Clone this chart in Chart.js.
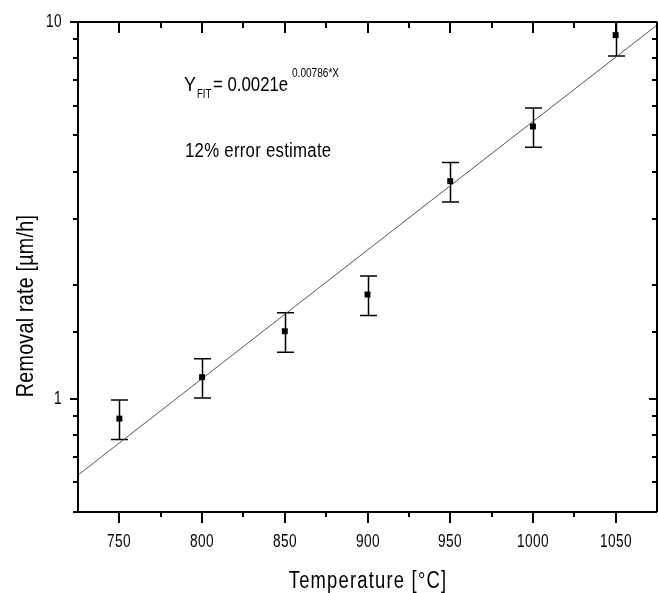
<!DOCTYPE html>
<html>
<head>
<meta charset="utf-8">
<script src="https://cdn.jsdelivr.net/npm/chart.js@4/dist/chart.umd.min.js"></script>
<style>
  html, body { margin: 0; padding: 0; background: #fff; }
  #wrap { width: 658px; height: 593px; position: relative; }
</style>
</head>
<body>
<div id="wrap"><canvas id="c" width="658" height="593"></canvas></div>
<script>
// Measured removal rates vs. temperature
const temperatures = [750, 800, 850, 900, 950, 1000, 1050];
const removalRates = [0.885, 1.14, 1.51, 1.89, 3.78, 5.28, 9.23];
const errorFraction = 0.12;          // 12% error estimate

// Exponential fit Y = A * exp(B * X)
const FIT_A = 0.0021;
const FIT_B = 0.00786;
const fitRange = [725, 1075];

// Axis ranges and labels
const xRange = [725, 1075];
const xStep = 25;
const xLabelStep = 50;
const yRange = [0.5, 10];
const xTitle = 'Temperature [°C]';
const yTitle = 'Removal rate [µm/h]';
const fitLabel = { y: 'Y', sub: 'FIT', main: '= 0.0021e', sup: '0.00786*X' };
const errorLabel = '12% error estimate';

// Plot frame geometry (pixels)
const frame = { left: 78, top: 22, right: 657, bottom: 512 };

const FONT = "'Liberation Sans', Arial, sans-serif";

const points = temperatures.map((t, i) => ({ x: t, y: removalRates[i] }));
const fitLine = fitRange.map(x => ({ x, y: FIT_A * Math.exp(FIT_B * x) }));

const isDecade = v => Math.abs(Math.log10(v) - Math.round(Math.log10(v))) < 1e-9;
const formatX = v => (v % xLabelStep === 0 ? String(v) : '');
const formatY = v => (isDecade(v) ? String(Math.round(v)) : '');

// Draws text squeezed horizontally by a factor (narrow typeface look)
function narrowText(ctx, text, x, y, size, squeeze, align, spacing) {
  ctx.save();
  ctx.font = size + 'px ' + FONT;
  ctx.letterSpacing = (spacing || 0) + 'px';
  ctx.textAlign = 'left';
  const w = ctx.measureText(text).width * squeeze;
  let x0 = x;
  if (align === 'center') x0 = x - w / 2;
  else if (align === 'right') x0 = x - w;
  ctx.translate(x0, y);
  ctx.scale(squeeze, 1);
  ctx.fillText(text, 0, 0);
  ctx.restore();
}

// Pins the plot area to the frame geometry
const pinArea = {
  id: 'pinArea',
  afterLayout(chart) {
    const f = frame;
    chart.chartArea = { left: f.left, top: f.top, right: f.right, bottom: f.bottom,
                        width: f.right - f.left, height: f.bottom - f.top };
    const { x, y } = chart.scales;
    Object.assign(x, { left: f.left, right: f.right, width: f.right - f.left,
                       top: f.bottom, bottom: chart.height, height: chart.height - f.bottom });
    Object.assign(y, { left: 0, right: f.left, width: f.left,
                       top: f.top, bottom: f.bottom, height: f.bottom - f.top });
    x.configure();
    y.configure();
  }
};

// Frame, tick marks, tick labels, error bars and text annotations
const decor = {
  id: 'decor',
  beforeDatasetsDraw(chart) {
    const { ctx, chartArea: a, scales: { x, y } } = chart;
    ctx.save();
    ctx.beginPath();
    ctx.rect(a.left, a.top, a.right - a.left, a.bottom - a.top);
    ctx.clip();
    ctx.strokeStyle = '#000';
    ctx.lineWidth = 1.5;
    points.forEach(p => {
      const px = Math.round(x.getPixelForValue(p.x)) + 0.5;
      const yHi = y.getPixelForValue(p.y * (1 + errorFraction));
      const yLo = y.getPixelForValue(p.y * (1 - errorFraction));
      ctx.beginPath();
      ctx.moveTo(px, yHi); ctx.lineTo(px, yLo);
      ctx.moveTo(px - 8.5, yHi); ctx.lineTo(px + 8.5, yHi);
      ctx.moveTo(px - 8.5, yLo); ctx.lineTo(px + 8.5, yLo);
      ctx.stroke();
    });
    ctx.restore();
  },
  afterDraw(chart) {
    const { ctx, chartArea: a, scales: { x, y } } = chart;
    ctx.save();
    ctx.strokeStyle = '#000';
    ctx.fillStyle = '#000';
    ctx.lineWidth = 2;
    // frame
    ctx.beginPath();
    ctx.moveTo(a.left, a.top - 1); ctx.lineTo(a.left, a.bottom + 1);
    ctx.moveTo(a.left - 1, a.bottom); ctx.lineTo(a.right, a.bottom);
    ctx.moveTo(a.left - 1, a.top); ctx.lineTo(a.right, a.top);
    ctx.moveTo(a.right, a.top); ctx.lineTo(a.right, a.bottom);
    ctx.stroke();

    ctx.textBaseline = 'alphabetic';
    // x ticks: bottom outward, top inward
    ctx.beginPath();
    x.ticks.forEach(t => {
      const px = Math.round(x.getPixelForValue(t.value));
      const label = formatX(t.value);
      const major = label !== '';
      if (t.value > xRange[0] && t.value < xRange[1]) {
        ctx.moveTo(px, a.bottom); ctx.lineTo(px, a.bottom + (major ? 11 : 5));
        ctx.moveTo(px, a.top); ctx.lineTo(px, a.top + (major ? 11 : 6));
      }
      if (label) narrowText(ctx, label, px, a.bottom + 35, 19, 0.72, 'center', 0.5);
    });
    // y ticks: left outward, right inward
    y.ticks.forEach(t => {
      const py = Math.round(y.getPixelForValue(t.value));
      const label = formatY(t.value);
      const major = label !== '';
      ctx.moveTo(a.left, py); ctx.lineTo(a.left - (major ? 8 : 5), py);
      if (t.value > yRange[0] && t.value < yRange[1]) {
        ctx.moveTo(a.right, py); ctx.lineTo(a.right - (major ? 8 : 5), py);
      }
      if (label) narrowText(ctx, label, a.left - 16, py + 5, 19, 0.72, 'right', 0.5);
    });
    ctx.stroke();

    // axis titles
    narrowText(ctx, xTitle, 368, 588, 23, 0.8, 'center', 1.5);
    ctx.save();
    ctx.translate(33, 306);
    ctx.rotate(-Math.PI / 2);
    narrowText(ctx, yTitle, 0, 0, 24, 0.82, 'center', 0.3);
    ctx.restore();

    // fit equation
    narrowText(ctx, fitLabel.y, 184, 91, 21, 0.85, 'left', 0);
    narrowText(ctx, fitLabel.sub, 197, 98, 12, 0.8, 'left', 0);
    narrowText(ctx, fitLabel.main, 213, 91, 20, 0.84, 'left', 0);
    narrowText(ctx, fitLabel.sup, 292, 77, 12, 0.84, 'left', 0);
    // error note
    narrowText(ctx, errorLabel, 185, 157, 20, 0.84, 'left', 0.3);
    ctx.restore();
  }
};

new Chart(document.getElementById('c'), {
  data: {
    datasets: [
      {
        type: 'line',
        data: fitLine,
        borderColor: '#555',
        borderWidth: 1,
        pointRadius: 0,
        fill: false,
        tension: 0,
        order: 2
      },
      {
        type: 'scatter',
        data: points,
        pointStyle: 'rect',
        pointRadius: 4.2,
        pointBorderWidth: 0,
        backgroundColor: '#000',
        borderColor: '#000',
        order: 1
      }
    ]
  },
  options: {
    responsive: false,
    animation: false,
    devicePixelRatio: 1,
    plugins: { legend: { display: false }, tooltip: { enabled: false } },
    scales: {
      x: {
        type: 'linear',
        min: xRange[0],
        max: xRange[1],
        grid: { display: false, drawTicks: false },
        border: { display: false },
        ticks: { display: false, stepSize: xStep, autoSkip: false, callback: formatX }
      },
      y: {
        type: 'logarithmic',
        min: yRange[0],
        max: yRange[1],
        grid: { display: false, drawTicks: false },
        border: { display: false },
        ticks: { display: false, autoSkip: false, callback: formatY }
      }
    }
  },
  plugins: [pinArea, decor]
});
</script>
</body>
</html>
